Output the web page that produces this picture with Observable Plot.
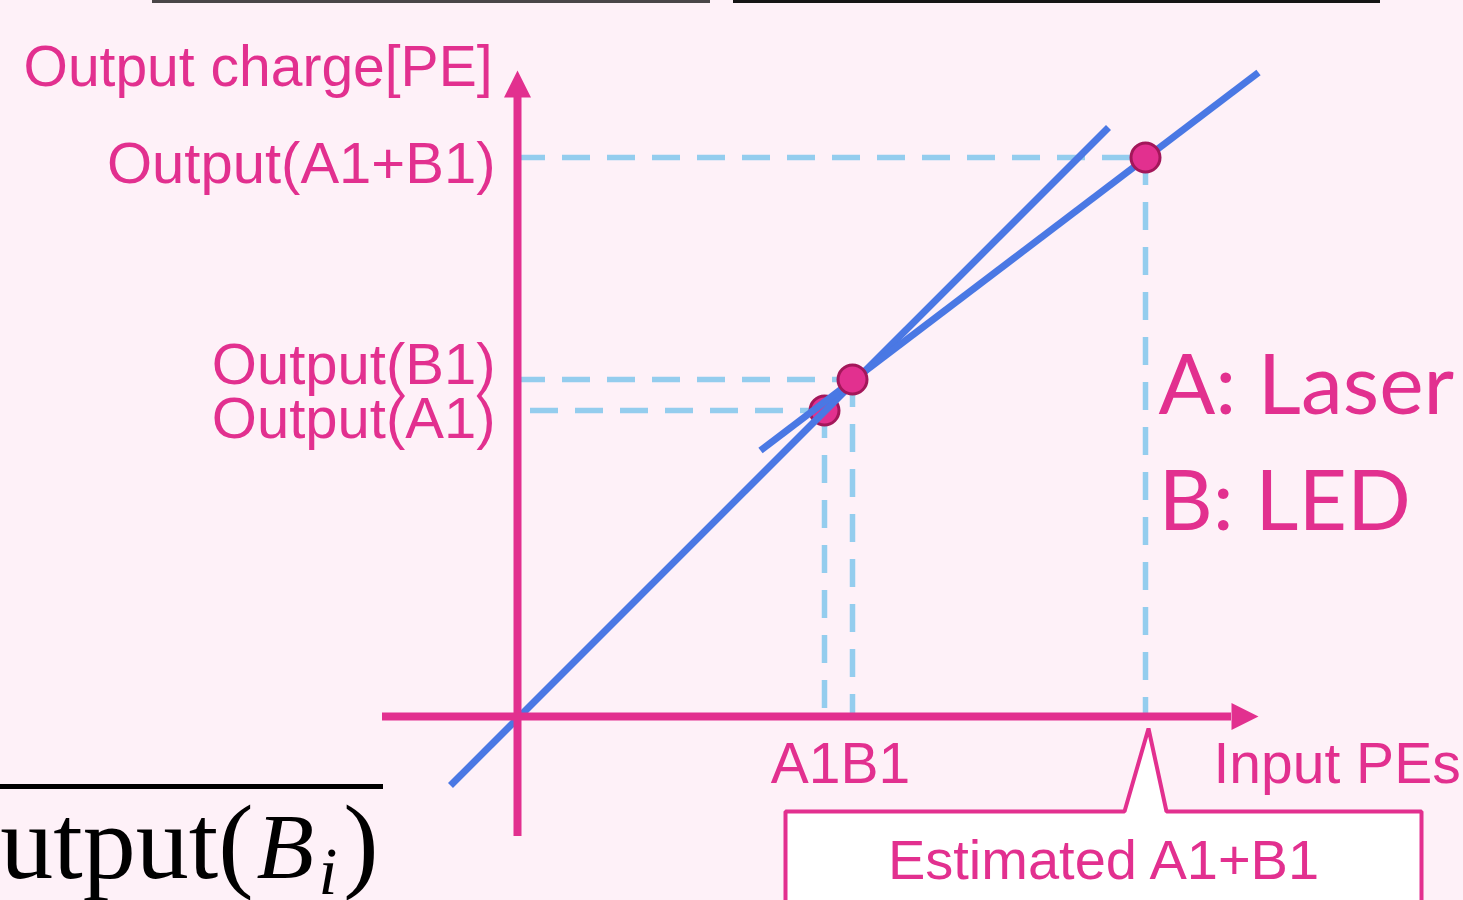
<!DOCTYPE html>
<html><head><meta charset="utf-8">
<script src="https://cdn.jsdelivr.net/npm/d3@7"></script>
<script src="https://cdn.jsdelivr.net/npm/@observablehq/plot@0.6"></script>
<style>
html,body{margin:0;padding:0;background:#fef1f8;overflow:hidden}
#chart svg{display:block}
</style></head><body><div id="chart"></div>
<script>
// ---- schematic data (arbitrary PE units) ----
const pointNames   = ["A1", "B1", "A1+B1"];
const pointInput   = [30.7, 33.5, 62.8];
const pointOutput  = [30.6, 33.7, 55.9];
const tickLabels   = ["Output(A1)", "Output(B1)", "Output(A1+B1)"];
const tickLabelOutput = [27.9, 33.3, 53.4];

const idealInput    = [-6.7, 59.1];   // ideal linear response line
const idealOutput   = [-6.9, 58.9];
const measuredInput = [24.3, 74.1];   // combined-light response line
const measuredOutput= [26.6, 64.4];

const xAxisExtent = [-13.5, 71.4];
const yAxisExtent = [-12.0, 61.9];
const legendLines = ["A: Laser", "B: LED"];
const legendOutput = [30.3, 18.7];
const calloutText = "Estimated A1+B1";
const calloutBox = {left: 26.8, right: 90.4, top: -9.5, bottom: -22, baseHalf: 2.1, tip: -1.2};

const xDomain = [-51.7, 94.6];
const yDomain = [-18.4, 71.6];

// ---- derived tables ----
const pts = pointNames.map((n, i) => ({name: n, input: pointInput[i], output: pointOutput[i]}));
const ideal = idealInput.map((x, i) => ({input: x, output: idealOutput[i]}));
const measured = measuredInput.map((x, i) => ({input: x, output: measuredOutput[i]}));
const ticks = tickLabels.map((t, i) => ({label: t, output: tickLabelOutput[i]}));
const sumPt = pts[2];
const cb = calloutBox;
const callout = [
  [cb.left, cb.bottom], [cb.left, cb.top], [sumPt.input - cb.baseHalf, cb.top],
  [sumPt.input + 0.3, cb.tip], [sumPt.input + cb.baseHalf, cb.top],
  [cb.right, cb.top], [cb.right, cb.bottom]
].map(([input, output]) => ({input, output}));

const pink = "#e2308f", blue = "#4a78e4", sky = "#94cdee";
const sans = "Liberation Sans, Arial, sans-serif";
const arrowHead = {draw(ctx, size) {
  const r = Math.sqrt(size / Math.PI);
  ctx.moveTo(0, -r); ctx.lineTo(r / 2, 0); ctx.lineTo(-r / 2, 0); ctx.closePath();
}};
const dash = {stroke: sky, strokeWidth: 5.5, strokeDasharray: "28,17"};
const label = (data, o) => Plot.text(data, {fill: pink, fontFamily: sans, fontSize: 57, lineAnchor: "bottom", ...o});
const serif = "Liberation Serif, serif";

const chart = Plot.plot({
  width: 1463, height: 900, margin: 0,
  x: {domain: xDomain, axis: null},
  y: {domain: yDomain, axis: null},
  style: {background: "transparent", overflow: "hidden"},
  marks: [
    // slide artefacts at the top edge
    Plot.ruleY([yDomain[1] - 0.1], {x1: -36.5, x2: 19.3, stroke: "#4a4648", strokeWidth: 3}),
    Plot.ruleY([yDomain[1] - 0.1], {x1: 21.6, x2: 86.3, stroke: "#151515", strokeWidth: 3}),
    // dashed guides
    Plot.ruleY(pts.filter(d => d.name !== "A1"), {y: "output", x1: 0, x2: "input", ...dash}),
    Plot.ruleY(pts.filter(d => d.name === "A1"), {y: "output", x1: 0, x2: "input", ...dash, strokeDashoffset: 32}),
    Plot.ruleX(pts, {x: "input", y1: "output", y2: 0, ...dash}),
    // A1 dot sits behind the lines
    Plot.dot(pts.filter(d => d.name === "A1"), {x: "input", y: "output", r: 14.5, fill: pink, stroke: "#a3175a", strokeWidth: 3}),
    Plot.line(ideal, {x: "input", y: "output", stroke: blue, strokeWidth: 7, strokeLinecap: "butt"}),
    Plot.line(measured, {x: "input", y: "output", stroke: blue, strokeWidth: 7, strokeLinecap: "butt"}),
    // axes
    Plot.ruleX([0], {y1: yAxisExtent[0], y2: yAxisExtent[1], stroke: pink, strokeWidth: 8}),
    Plot.ruleY([0], {x1: xAxisExtent[0], x2: xAxisExtent[1], stroke: pink, strokeWidth: 8}),
    Plot.dot([0], {x: 0, y: yAxisExtent[1], r: 27, symbol: arrowHead, fill: pink, stroke: "none"}),
    Plot.dot([0], {x: xAxisExtent[1], y: 0, r: 27, symbol: arrowHead, rotate: 90, fill: pink, stroke: "none"}),
    Plot.dot(pts.filter(d => d.name !== "A1"), {x: "input", y: "output", r: 14.5, fill: pink, stroke: "#a3175a", strokeWidth: 3}),
    // labels
    label(["Output charge[PE]"], {x: 0, y: 63.1, dx: -25, textAnchor: "end"}),
    label(ticks, {x: 0, y: "output", text: "label", dx: -22, textAnchor: "end", fontSize: 58}),
    label(["A1B1"], {x: (pts[0].input + pts[1].input) / 2, y: -6.6, dx: 2, textAnchor: "middle"}),
    label(["Input PEs"], {x: 69.6, y: -6.6, textAnchor: "start"}),
    label(legendLines, {x: 64.1, y: (d, i) => legendOutput[i], textAnchor: "start", fontFamily: "Lato, sans-serif", fontSize: 84}),
    // callout
    Plot.line(callout, {x: "input", y: "output", fill: "white", stroke: pink, strokeWidth: 4, strokeLinejoin: "miter", strokeLinecap: "butt"}),
    label([calloutText], {x: (cb.left + cb.right) / 2, y: -16.2, textAnchor: "middle", fontSize: 56}),
    // cropped formula at the bottom left
    Plot.ruleY([-7.0], {x1: xDomain[0], x2: -13.4, stroke: "black", strokeWidth: 5}),
    Plot.text(["Output("], {x: -26.4, y: -16.1, textAnchor: "end", lineAnchor: "bottom", fill: "black", fontFamily: serif, fontSize: 106}),
    Plot.text(["B"], {x: -26.1, y: -16.1, textAnchor: "start", lineAnchor: "bottom", fill: "black", fontFamily: serif, fontStyle: "italic", fontSize: 94}),
    Plot.text(["i"], {x: -19.9, y: -17.7, textAnchor: "start", lineAnchor: "bottom", fill: "black", fontFamily: serif, fontStyle: "italic", fontSize: 68}),
    Plot.text([")"], {x: -13.9, y: -16.1, textAnchor: "end", lineAnchor: "bottom", fill: "black", fontFamily: serif, fontSize: 106})
  ]
});
document.getElementById("chart").appendChild(chart);
</script></body></html>
